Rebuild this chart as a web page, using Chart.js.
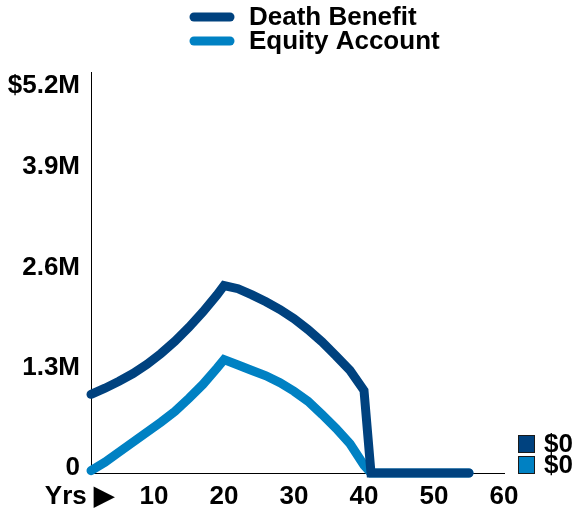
<!DOCTYPE html>
<html>
<head>
<meta charset="utf-8">
<script src="https://cdn.jsdelivr.net/npm/chart.js@4/dist/chart.umd.min.js"></script>
<style>
  html, body { margin: 0; padding: 0; background: #fff; }
  #wrap { width: 577px; height: 511px; }
</style>
</head>
<body>
<div id="wrap"><canvas id="chart" width="577" height="511"></canvas></div>
<script>
// Data ==========================
const seriesNames = ["Death Benefit", "Equity Account"];
const seriesColors = ["#00427f", "#0081c3"];

const years = [1, 3, 5, 7, 9, 11, 13, 15, 17, 19, 20, 22, 24, 26, 28, 30, 32, 34, 36, 38, 40, 41, 55];
// values in $M
const deathBenefit = [1.02, 1.10, 1.19, 1.29, 1.41, 1.55, 1.71, 1.89, 2.09, 2.31, 2.43, 2.39, 2.31, 2.22, 2.12, 2.00, 1.86, 1.70, 1.52, 1.33, 1.07, 0, 0];
const equityAccount = [0.03, 0.14, 0.27, 0.40, 0.53, 0.66, 0.80, 0.97, 1.15, 1.36, 1.47, 1.40, 1.33, 1.26, 1.17, 1.06, 0.93, 0.76, 0.58, 0.38, 0.10, 0, 0];

const xTicks = [10, 20, 30, 40, 50, 60];
const yTicks = [0, 1.3, 2.6, 3.9, 5.2];
const yTickLabels = ["0", "1.3M", "2.6M", "3.9M", "$5.2M"];
const xAxisLabel = "Yrs \u25B6";

const FONT = 'bold 26px "Liberation Sans", Arial, sans-serif';

function toPoints(vals) {
    return years.map((x, i) => ({ x: x, y: vals[i] }));
}

function fmtEnd(v) {
    return "$" + (v === 0 ? "0" : v.toFixed(1) + "M");
}

// Labels drawn with the scales =======
const labelsPlugin = {
    id: "labels",
    afterDraw(chart) {
        const ctx = chart.ctx;
        const xs = chart.scales.x, ys = chart.scales.y;
        const area = chart.chartArea;
        ctx.save();
        ctx.font = FONT;
        ctx.fillStyle = "#000";
        ctx.textBaseline = "middle";

        // y ticks
        ctx.textAlign = "right";
        yTicks.forEach((v, i) => {
            const py = Math.max(ys.getPixelForValue(v) - 5, area.top + 14);
            ctx.fillText(yTickLabels[i], 80, py);
        });

        // x ticks
        ctx.textAlign = "center";
        xTicks.forEach(v => {
            ctx.fillText(String(v), xs.getPixelForValue(v), 497);
        });
        ctx.textAlign = "right";
        ctx.fillText(xAxisLabel, 114, 497);

        // legend
        ctx.textAlign = "left";
        chart.data.datasets.forEach((ds, i) => {
            const cy = 17 + i * 24;
            ctx.strokeStyle = ds.borderColor;
            ctx.lineWidth = 9;
            ctx.lineCap = "round";
            ctx.beginPath();
            ctx.moveTo(194, cy);
            ctx.lineTo(230, cy);
            ctx.stroke();
            ctx.fillStyle = "#000";
            ctx.fillText(ds.label, 249, cy + 1);
        });

        // end values
        chart.data.datasets.forEach((ds, i) => {
            const cy = 444 + i * 21;
            ctx.fillStyle = ds.borderColor;
            ctx.fillRect(518, cy - 9, 17, 18);
            ctx.strokeStyle = "#1a1a1a";
            ctx.lineWidth = 1;
            ctx.strokeRect(518.5, cy - 8.5, 16, 17);
            ctx.fillStyle = "#000";
            const last = ds.data[ds.data.length - 1].y;
            ctx.fillText(fmtEnd(last), 544, cy + 1);
        });
        ctx.restore();
    }
};

// Chart ==========================
const chart = new Chart(document.getElementById("chart").getContext("2d"), {
    type: "line",
    data: {
        datasets: [
            {
                label: seriesNames[0],
                data: toPoints(deathBenefit),
                borderColor: seriesColors[0],
                borderWidth: 9,
                borderCapStyle: "round",
                borderJoinStyle: "miter",
                pointRadius: 0,
                tension: 0,
                clip: false
            },
            {
                label: seriesNames[1],
                data: toPoints(equityAccount),
                borderColor: seriesColors[1],
                borderWidth: 9,
                borderCapStyle: "round",
                borderJoinStyle: "miter",
                pointRadius: 0,
                tension: 0,
                clip: false
            }
        ]
    },
    options: {
        responsive: false,
        animation: false,
        layout: { padding: { left: 91, right: 73, top: 72, bottom: 38 } },
        plugins: { legend: { display: false }, tooltip: { enabled: false } },
        scales: {
            x: {
                type: "linear",
                min: 1,
                max: 60,
                afterBuildTicks: s => { s.ticks = xTicks.map(v => ({ value: v })); },
                ticks: { display: false },
                grid: { display: false, drawTicks: false },
                border: { display: true, color: "#000", width: 1 }
            },
            y: {
                min: 0,
                max: 5.2,
                afterBuildTicks: s => { s.ticks = yTicks.map(v => ({ value: v })); },
                ticks: { display: false },
                grid: { display: false, drawTicks: false },
                border: { display: true, color: "#000", width: 1 }
            }
        }
    },
    plugins: [labelsPlugin]
});
</script>
</body>
</html>
